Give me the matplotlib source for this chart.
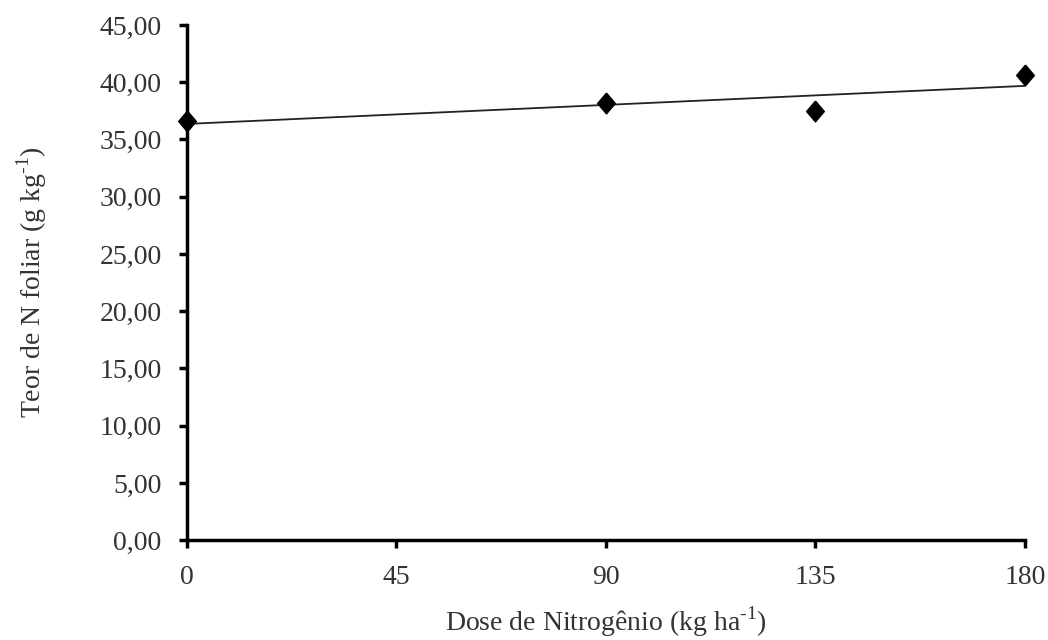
import matplotlib
matplotlib.use("Agg")
import matplotlib.pyplot as plt
import numpy as np

dose = [0, 90, 135, 180]
teor_n = [36.6, 38.2, 37.5, 40.6]
xticks = [0, 45, 90, 135, 180]
yticks = [0, 5, 10, 15, 20, 25, 30, 35, 40, 45]

plt.rcParams['font.family'] = ['Liberation Serif', 'DejaVu Serif']
plt.rcParams['mathtext.fontset'] = 'custom'
plt.rcParams['mathtext.rm'] = 'Liberation Serif'
txt_color = '#333333'

fig = plt.figure(figsize=(10.48, 6.4), dpi=100)
ax = fig.add_axes([0.178, 0.156, 0.8, 0.805])

coef = np.polyfit(dose, teor_n, 1)
xl = np.array([min(dose), max(dose)])
ax.plot(xl, np.polyval(coef, xl), color='#222222', lw=1.3, zorder=2)
diamond = [(0, 1), (0.85, 0), (0, -1), (-0.85, 0), (0, 1)]
ax.plot(dose, teor_n, linestyle='none', marker=diamond, color='black', ms=15,
        clip_on=False, zorder=3)

ax.set_xlim(0, 180)
ax.set_ylim(0, 45)
ax.set_xticks(xticks)
ax.set_xticklabels([str(v) for v in xticks])
ax.set_yticks(yticks)
ax.set_yticklabels([f"{v:.2f}".replace('.', ',') for v in yticks])

for s in ['top', 'right']:
    ax.spines[s].set_visible(False)
for s in ['left', 'bottom']:
    ax.spines[s].set_linewidth(2.5)
    ax.spines[s].set_color('black')

ax.tick_params(axis='both', direction='out', length=6, width=2.5, colors='black',
               labelsize=20, labelcolor=txt_color)
ax.tick_params(axis='x', pad=12)
ax.tick_params(axis='y', pad=12)

ax.set_xlabel('Dose de Nitrogênio (kg ha$^{\\mathregular{\\text{-}1}}$)', fontsize=20,
              color=txt_color, labelpad=10)
ax.set_ylabel('Teor de N foliar (g kg$^{\\mathregular{\\text{-}1}}$)', fontsize=20,
              color=txt_color, labelpad=36)

fig.savefig('out.png', dpi=100)
